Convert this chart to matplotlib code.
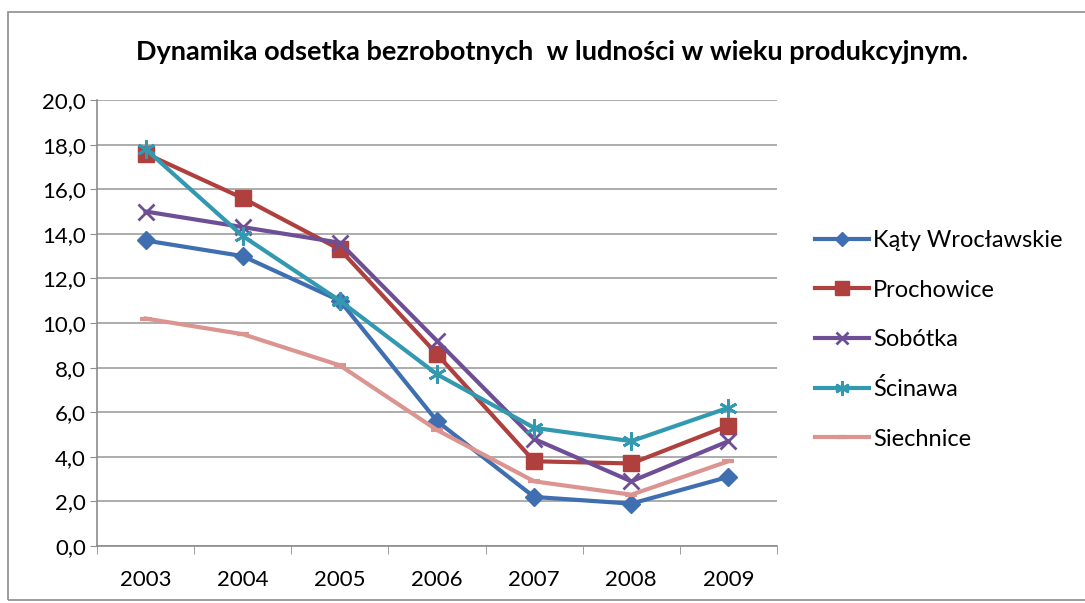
import matplotlib.pyplot as plt
from matplotlib.patches import Rectangle

lata = ["2003", "2004", "2005", "2006", "2007", "2008", "2009"]
katy = [13.7, 13.0, 11.0, 5.6, 2.2, 1.9, 3.1]
prochowice = [17.6, 15.6, 13.3, 8.6, 3.8, 3.7, 5.4]
sobotka = [15.0, 14.3, 13.6, 9.2, 4.8, 2.9, 4.7]
scinawa = [17.8, 13.9, 11.0, 7.7, 5.3, 4.7, 6.2]
siechnice = [10.2, 9.5, 8.1, 5.2, 2.9, 2.3, 3.8]

plt.rcParams['font.family'] = ['Lato', 'DejaVu Sans']

fig = plt.figure(figsize=(10.85, 6.03), dpi=100)
ax = fig.add_axes([97 / 1085, 1 - 546 / 603, 680 / 1085, 446 / 603])

# ramka wykresu
fig.patches.append(Rectangle((8 / 1085, 3 / 603), 1.2, 588 / 603, transform=fig.transFigure,
                             fill=False, edgecolor="#8c8c8c", linewidth=1.2))

x = list(range(len(lata)))
ax.plot(x, katy, color="#3f6fb0", lw=3, marker="D", ms=9, label="Kąty Wrocławskie")
ax.plot(x, prochowice, color="#b0403d", lw=3, marker="s", ms=12, label="Prochowice")
ax.plot(x, sobotka, color="#6e4f96", lw=3, marker="x", ms=11, mew=2, label="Sobótka")
ax.plot(x, scinawa, color="#3399b0", lw=3, marker=(6, 2, 0), ms=13, mew=2, label="Ścinawa")
ax.plot(x, siechnice, color="#dc9491", lw=3, marker="_", ms=9, mew=3, label="Siechnice")

ax.set_xlim(-0.5, 6.5)
ax.set_ylim(0, 20)
ax.set_yticks([i * 2 for i in range(11)])
ax.set_yticklabels([f"{i * 2:.1f}".replace(".", ",") for i in range(11)])
ax.set_xticks(x)
ax.set_xticklabels(lata)
ax.set_xticks([i - 0.5 for i in range(8)], minor=True)
ax.tick_params(axis="x", which="major", length=0, pad=17, labelsize=16)
ax.tick_params(axis="x", which="minor", length=6, color="#8c8c8c", direction="out")
ax.tick_params(axis="y", length=5, color="#8c8c8c", labelsize=16, pad=3)
ax.grid(axis="y", color="#a6a6a6", lw=1.3)
ax.set_axisbelow(True)
for s in ["top", "right"]:
    ax.spines[s].set_visible(False)
for s in ["left", "bottom"]:
    ax.spines[s].set_color("#8c8c8c")
    ax.spines[s].set_linewidth(1.2)

fig.text(552 / 1085, 1 - 52 / 603, "Dynamika odsetka bezrobotnych  w ludności w wieku produkcyjnym.",
         ha="center", va="center", fontsize=19.5, fontweight="bold")

ax.legend(loc="center left", bbox_to_anchor=(815 / 1085, 1 - 340 / 603), bbox_transform=fig.transFigure,
          frameon=False, fontsize=17, handlelength=2.3, handletextpad=0.15, labelspacing=1.2,
          markerscale=0.8, borderpad=0, borderaxespad=0)

fig.savefig("out.png", dpi=100)
